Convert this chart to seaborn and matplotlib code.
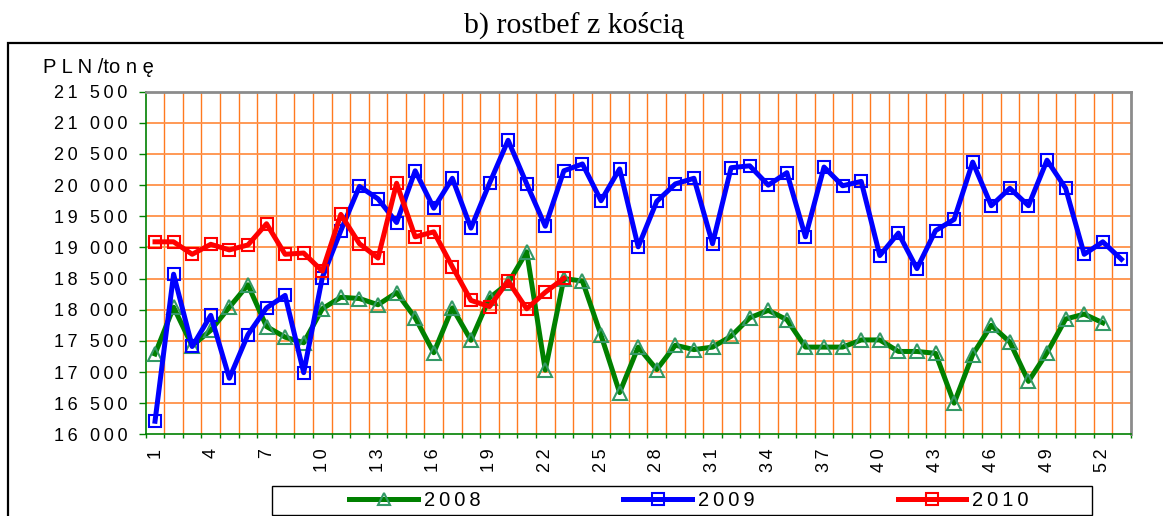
import numpy as np
import pandas as pd
import seaborn as sns
import matplotlib
matplotlib.use("Agg")
import matplotlib.pyplot as plt
from matplotlib.patches import Rectangle
from matplotlib.lines import Line2D
from matplotlib.ticker import FixedLocator, FuncFormatter

# Weekly prices of bone-in roast beef, PLN per tonne
weeks_2008 = list(range(1, 53))
price_2008 = [17290, 18040, 17420, 17670, 18040, 18400, 17730, 17560, 17470, 18015,
              18200, 18180, 18080, 18275, 17870, 17310, 18030, 17510, 18190, 18425,
              18930, 17030, 18500, 18460, 17590, 16670, 17400, 17040, 17430, 17360,
              17400, 17575, 17870, 17990, 17840, 17400, 17400, 17400, 17515, 17515,
              17330, 17330, 17300, 16500, 17280, 17750, 17480, 16850, 17310, 17850,
              17930, 17790]

weeks_2009 = list(range(1, 54))
price_2009 = [16210, 18570, 17410, 17910, 16900, 17600, 18030, 18230, 16990, 18515,
              19270, 19980, 19780, 19400, 20230, 19630, 20110, 19310, 20030, 20720,
              20020, 19340, 20230, 20340, 19750, 20260, 19010, 19740, 20020, 20110,
              19060, 20280, 20310, 20000, 20200, 19170, 20290, 19990, 20060, 18870,
              19230, 18660, 19270, 19450, 20370, 19670, 19950, 19670, 20400, 19950,
              18890, 19090, 18810]

weeks_2010 = list(range(1, 24))
price_2010 = [19090, 19090, 18890, 19050, 18960, 19040, 19380, 18890, 18910, 18620,
              19530, 19060, 18830, 20030, 19170, 19250, 18690, 18150, 18050, 18460,
              18015, 18280, 18505]

series_labels = ["2008", "2009", "2010"]
x_tick_weeks = list(range(1, 54, 3))
y_ticks = list(range(16000, 21501, 500))

title = "b) rostbef z kością"
unit_label = "P L N /to n ę"

SANS = ["Liberation Sans", "DejaVu Sans"]
THIN = "\u2009"

fig = plt.figure(figsize=(11.63, 5.16), dpi=100)
fig.patch.set_facecolor("white")
ax = fig.add_axes([0.1253, 0.1583, 0.8469, 0.6640])

styles = [
    dict(color="#008000", marker="^", mec="#339966", ms=10),
    dict(color="#0000FF", marker="s", mec="#0000FF", ms=9),
    dict(color="#FF0000", marker="s", mec="#FF0000", ms=9),
]
data = [(weeks_2008, price_2008), (weeks_2009, price_2009), (weeks_2010, price_2010)]

for (wk, pr), st in zip(data, styles):
    df = pd.DataFrame({"week": wk, "price": pr})
    sns.lineplot(data=df, x="week", y="price", ax=ax, color=st["color"], lw=3.6,
                 marker=st["marker"], markersize=st["ms"], markerfacecolor="none",
                 markeredgecolor=st["mec"], markeredgewidth=1.5, zorder=3,
                 legend=False)

ax.set_xlim(0.5, 53.5)
ax.set_ylim(16000, 21500)
ax.set_xlabel("")
ax.set_ylabel("")

# grid: vertical lines between weeks, horizontal every 500 PLN
for xb in np.arange(1.5, 53.5, 1.0):
    ax.axvline(xb, color="#FF7A1F", lw=1.0, zorder=1)
for yv in y_ticks[1:-1]:
    ax.axhline(yv, color="#FF9148", lw=1.3, zorder=1)

ax.yaxis.set_major_locator(FixedLocator(y_ticks))
ax.yaxis.set_major_formatter(FuncFormatter(
    lambda v, p: THIN.join(f"{int(v):,}".replace(",", " "))))
ax.tick_params(axis="y", which="major", direction="out", length=5, width=1,
               color="#008000", pad=8, labelsize=13)

ax.xaxis.set_major_locator(FixedLocator(x_tick_weeks))
ax.xaxis.set_major_formatter(FuncFormatter(lambda v, p: THIN.join(str(int(round(v))))))
ax.xaxis.set_minor_locator(FixedLocator(np.arange(0.5, 54.0, 1.0)))
ax.tick_params(axis="x", which="major", length=0, pad=10, labelsize=13, labelrotation=90)
ax.tick_params(axis="x", which="minor", direction="out", length=3, width=1, color="#008000")
for lbl in ax.get_xticklabels():
    lbl.set_va("top")
    lbl.set_ha("center")
for lbl in ax.get_xticklabels() + ax.get_yticklabels():
    lbl.set_family(SANS)

for side in ("left", "bottom"):
    ax.spines[side].set_color("#008000")
    ax.spines[side].set_linewidth(1.2)
for side in ("top", "right"):
    ax.spines[side].set_color("#8C8C8C")
    ax.spines[side].set_linewidth(2)

fig.text(0.4936, 0.936, title, ha="center", va="baseline",
         family=["Liberation Serif", "DejaVu Serif"], fontsize=21.5)
fig.text(43 / 1163, (516 - 73) / 516, unit_label, ha="left", va="baseline",
         family=SANS, fontsize=14.5)

# outer frame around the chart object (left and top edges in view)
fig.add_artist(Rectangle((8 / 1163, -0.05), 1.2, 0.05 + (516 - 43) / 516,
                         transform=fig.transFigure, fill=False, ec="black",
                         lw=1.6, clip_on=False))

# legend box at the bottom
fig.add_artist(Rectangle((272 / 1163, (516 - 515) / 516), 820 / 1163, 29 / 516,
                         transform=fig.transFigure, fill=False, ec="black",
                         lw=1.0, clip_on=False))
handles = [Line2D([0], [0], color=st["color"], lw=3.6, marker=st["marker"],
                  markersize=st["ms"] - 1, markerfacecolor="none",
                  markeredgecolor=st["mec"], markeredgewidth=1.5)
           for st in styles]
leg = fig.legend(handles, [THIN.join(s) for s in series_labels], loc="center",
                 bbox_to_anchor=(689 / 1163, (516 - 500.5) / 516), ncol=3,
                 frameon=False, handlelength=3.4, handletextpad=0.3,
                 columnspacing=7.1, prop={"family": SANS, "size": 14.5})

fig.savefig("out.png", dpi=100, facecolor="white")
